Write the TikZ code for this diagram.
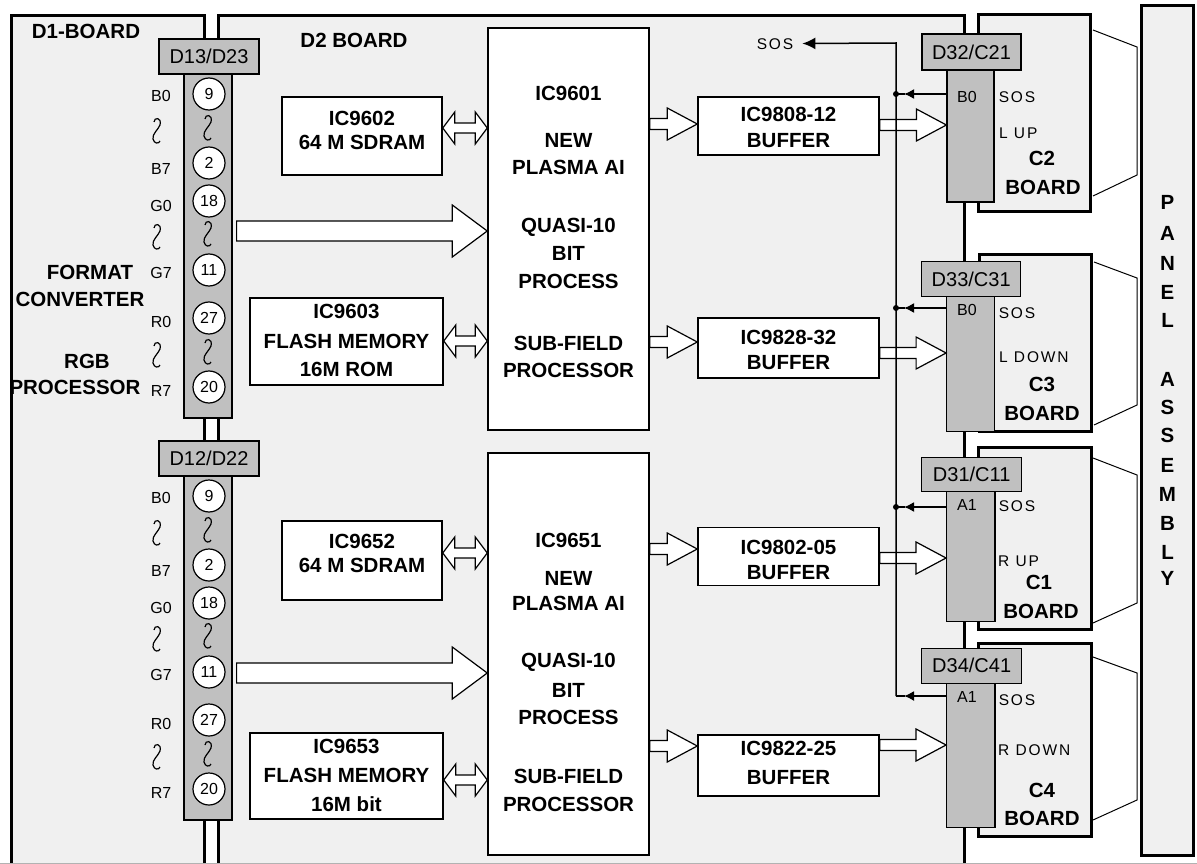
\documentclass[tikz,border=0pt]{standalone}
\usepackage{fontspec}
\setmainfont{Liberation Sans}
\newfontfamily\spacedfont[LetterSpace=12]{Liberation Sans}
\usetikzlibrary{calc,arrows.meta}
\definecolor{boardbg}{HTML}{F0F0F0}
\definecolor{conngrey}{HTML}{C0C0C0}
\newcommand\bfnt{\fontsize{20.5}{24}\selectfont\bfseries}
\newcommand\hfnt{\fontsize{20}{24}\selectfont}
\newcommand\sfnt{\fontsize{16}{19}\selectfont}
\newcommand\spfnt{\spacedfont\fontsize{15.5}{19}\selectfont}
\tikzset{
 boardbox/.style={draw=black, line width=3pt, fill=boardbg, inner sep=0pt},
 chip/.style={draw=black, line width=1.5pt, fill=white, inner sep=0pt},
 conn/.style={draw=black, line width=1.2pt, fill=conngrey, inner sep=0pt},
 pin/.style={circle, draw=black, line width=1.2pt, fill=white, minimum size=32pt, inner sep=0pt, font=\sfnt},
 bt/.style={font=\bfnt, inner sep=0pt, text height=14.7pt, text depth=0pt},
 st/.style={font=\sfnt, inner sep=0pt, text height=11.5pt, text depth=0pt},
 sp/.style={font=\spfnt, inner sep=0pt, text height=11.2pt, text depth=0pt},
 hollow/.style={draw=black, fill=white, line width=1.2pt, line join=miter},
 sig/.style={draw=black, line width=1.5pt},
 brk/.style={draw=black, line width=1pt},
 sostip/.style={-{Latex[length=10pt,width=10pt]}},
}
% single hollow block arrow: from, to, y, shaft half, head half, head length
\newcommand\blockarrow[6]{\draw[hollow] let \p1=(#1), \p2=(#2) in
 (\x1,{-#3pt+#4pt}) -- ({\x2-#6pt},{-#3pt+#4pt}) -- ({\x2-#6pt},{-#3pt+#5pt}) -- (\x2,{-#3pt})
 -- ({\x2-#6pt},{-#3pt-#5pt}) -- ({\x2-#6pt},{-#3pt-#4pt}) -- (\x1,{-#3pt-#4pt}) -- cycle;}
% double hollow block arrow
\newcommand\dblarrow[6]{\draw[hollow] let \p1=(#1), \p2=(#2) in
 (\x1,{-#3pt}) -- ({\x1+#6pt},{-#3pt+#5pt}) -- ({\x1+#6pt},{-#3pt+#4pt}) -- ({\x2-#6pt},{-#3pt+#4pt})
 -- ({\x2-#6pt},{-#3pt+#5pt}) -- (\x2,{-#3pt}) -- ({\x2-#6pt},{-#3pt-#5pt}) -- ({\x2-#6pt},{-#3pt-#4pt})
 -- ({\x1+#6pt},{-#3pt-#4pt}) -- ({\x1+#6pt},{-#3pt-#5pt}) -- cycle;}
\newcommand\squig[2]{\draw[line width=1.2pt] (#1-3,#2-9) .. controls (#1-3,#2-14) and (#1+5,#2-14) .. (#1+3,#2-6)
 .. controls (#1+1,#2-1) and (#1-5,#2+3) .. (#1-4,#2+8) .. controls (#1-3,#2+13) and (#1+2,#2+13) .. (#1+3,#2+10);}
\newcommand\pincolumn[3]{%
 \begin{scope}[yshift=#2]
  \node[conn, minimum width=48pt, minimum height=344pt] (#1col) at (208,246) {};
  \node[conn, minimum width=100pt, minimum height=35pt, font=\hfnt] (#1hdr) at (209,56.5) {#3};
  \node[pin] (#1p9) at (209,94) {9};
  \node[pin] (#1p2) at (209,163) {2};
  \node[pin] (#1p18) at (209,201) {18};
  \node[pin] (#1p11) at (209,270) {11};
  \node[pin] (#1p27) at (209,318) {27};
  \node[pin] (#1p20) at (209,387) {20};
  \squig{208}{128}\squig{208}{234}\squig{208}{352}
  \node[st] (#1lb0) at (161,96) {B0};
  \node[st] (#1lb7) at (161,169) {B7};
  \node[st] (#1lg0) at (161,206) {G0};
  \node[st] (#1lg7) at (161,273) {G7};
  \node[st] (#1lr0) at (161,322) {R0};
  \node[st] (#1lr7) at (161,391) {R7};
  \squig{157}{131}\squig{157}{237}\squig{157}{355}
 \end{scope}}
\begin{document}
\begin{tikzpicture}[x=1pt,y=-1pt]
\useasboundingbox (0,0) rectangle (1197,864);
\fill[white] (0,0) rectangle (1197,864);
% boards
\begin{scope}
 \clip (0,0) rectangle (1197,864);
 \node[boardbox, minimum width=192.5pt, minimum height=880pt] (d1) at (107.75,455.5) {};
 \node[boardbox, minimum width=745.5pt, minimum height=880pt] (d2) at (591.25,455.5) {};
\end{scope}
\draw[black!30, line width=1pt] (0,863.5) -- (1197,863.5);
\node[boardbox, minimum width=52.5pt, minimum height=849.5pt] (panel) at (1167.25,430.25) {};
\node[boardbox, minimum width=111.5pt, minimum height=196pt] (c2b) at (1034.25,113) {};
\node[boardbox, minimum width=112pt, minimum height=176.5pt] (c3b) at (1035.6,342.75) {};
\node[boardbox, minimum width=112.7pt, minimum height=181.6pt] (c1b) at (1034.7,538.5) {};
\node[boardbox, minimum width=112.7pt, minimum height=193.4pt] (c4b) at (1034.7,740) {};
% board titles
\node[bt] (t1) at (86,31.5) {D1-BOARD};
\node[bt] (t2) at (354,40) {D2 BOARD};
\node[bt] (t3) at (90,272) {FORMAT};
\node[bt] (t4) at (80,299) {CONVERTER};
\node[bt] (t5) at (87,361) {RGB};
\node[bt] (t6) at (75,387) {PROCESSOR};
% panel letters
\foreach \ch/\yy [count=\i] in {P/202,A/233,N/263,E/292,L/320,A/379,S/407,S/435,E/465,M/494,B/523,L/552,Y/578}
 \node[bt] (pl\i) at (1167.5,\yy) {\ch};
% chips
\node[chip, minimum width=160pt, minimum height=78pt] (ic9602) at (362,136) {};
\node[bt] (ic9602a) at (362,118) {IC9602};
\node[bt] (ic9602b) at (362,142) {64 M SDRAM};
\node[chip, minimum width=193pt, minimum height=87pt] (ic9603) at (346.5,341.5) {};
\node[bt] (ic9603a) at (346.5,311) {IC9603};
\node[bt] (ic9603b) at (346.5,341) {FLASH MEMORY};
\node[bt] (ic9603c) at (346.5,369) {16M ROM};
\node[chip, minimum width=160pt, minimum height=79pt] (ic9652) at (362,560.5) {};
\node[bt] (ic9652a) at (362,541) {IC9652};
\node[bt] (ic9652b) at (362,565) {64 M SDRAM};
\node[chip, minimum width=193pt, minimum height=86pt] (ic9653) at (346.5,776) {};
\node[bt] (ic9653a) at (346.5,746) {IC9653};
\node[bt] (ic9653b) at (346.5,775) {FLASH MEMORY};
\node[bt] (ic9653c) at (346.5,804) {16M bit};
\node[chip, minimum width=161pt, minimum height=402pt] (ic9601) at (568.5,229) {};
\node[bt] (ic9601a) at (568.5,93) {IC9601};
\node[bt] (ic9601b) at (568.5,140) {NEW};
\node[bt] (ic9601c) at (568.5,167) {PLASMA AI};
\node[bt] (ic9601d) at (568.5,225) {QUASI-10};
\node[bt] (ic9601e) at (568.5,253) {BIT};
\node[bt] (ic9601f) at (568.5,281) {PROCESS};
\node[bt] (ic9601g) at (568.5,343) {SUB-FIELD};
\node[bt] (ic9601h) at (568.5,370) {PROCESSOR};
\node[chip, minimum width=161pt, minimum height=402pt] (ic9651) at (568.5,654) {};
\node[bt] (ic9651a) at (568.5,540) {IC9651};
\node[bt] (ic9651b) at (568.5,578) {NEW};
\node[bt] (ic9651c) at (568.5,603) {PLASMA AI};
\node[bt] (ic9651d) at (568.5,660) {QUASI-10};
\node[bt] (ic9651e) at (568.5,690) {BIT};
\node[bt] (ic9651f) at (568.5,717) {PROCESS};
\node[bt] (ic9651g) at (568.5,776) {SUB-FIELD};
\node[bt] (ic9651h) at (568.5,804) {PROCESSOR};
\node[chip, minimum width=181pt, minimum height=58pt] (buf1) at (788.5,126) {};
\node[bt] (buf1a) at (788.5,114) {IC9808-12};
\node[bt] (buf1b) at (788.5,140) {BUFFER};
\node[chip, minimum width=181pt, minimum height=60pt] (buf2) at (788.5,348) {};
\node[bt] (buf2a) at (788.5,337) {IC9828-32};
\node[bt] (buf2b) at (788.5,362) {BUFFER};
\node[chip, minimum width=181pt, minimum height=58pt] (buf3) at (788.5,556.5) {};
\node[bt] (buf3a) at (788.5,547) {IC9802-05};
\node[bt] (buf3b) at (788.5,572) {BUFFER};
\node[chip, minimum width=181pt, minimum height=61pt] (buf4) at (788.5,765.5) {};
\node[bt] (buf4a) at (788.5,748) {IC9822-25};
\node[bt] (buf4b) at (788.5,777) {BUFFER};
% left connector columns
\pincolumn{u}{0pt}{D13/D23}
\pincolumn{l}{-402pt}{D12/D22}
% right connector columns
\node[conn, minimum width=47pt, minimum height=132pt] (c2col) at (970.5,136) {};
\node[conn, minimum width=99pt, minimum height=36pt, font=\hfnt] (c2hdr) at (971.5,52) {D32/C21};
\node[conn, minimum width=47.6pt, minimum height=135pt] (c3col) at (970.5,364.2) {};
\node[conn, minimum width=99pt, minimum height=35pt, font=\hfnt] (c3hdr) at (971.2,279.2) {D33/C31};
\node[conn, minimum width=48.3pt, minimum height=130pt] (c1col) at (970.8,556.7) {};
\node[conn, minimum width=100pt, minimum height=34.4pt, font=\hfnt] (c1hdr) at (971.7,474.5) {D31/C11};
\node[conn, minimum width=48.3pt, minimum height=144pt] (c4col) at (970.8,755.3) {};
\node[conn, minimum width=100pt, minimum height=35pt, font=\hfnt] (c4hdr) at (971.7,665.8) {D34/C41};
% right column texts
\node[st] (c2pin) at (967,97) {B0};
\node[sp] (c2sos) at (1017,97) {SOS};
\node[sp, anchor=west] (c2sig) at (999,133) {L UP};
\node[bt] (c2n) at (1042,158) {C2};
\node[bt] (c2bd) at (1043,187) {BOARD};
\node[st] (c3pin) at (967,310) {B0};
\node[sp] (c3sos) at (1017,313) {SOS};
\node[sp, anchor=west] (c3sig) at (999,357) {L DOWN};
\node[bt] (c3n) at (1042,384) {C3};
\node[bt] (c3bd) at (1042,413) {BOARD};
\node[st] (c1pin) at (967,505) {A1};
\node[sp] (c1sos) at (1017,506) {SOS};
\node[sp, anchor=west] (c1sig) at (998,561) {R UP};
\node[bt] (c1n) at (1039,582) {C1};
\node[bt] (c1bd) at (1041,611) {BOARD};
\node[st] (c4pin) at (967,697) {A1};
\node[sp] (c4sos) at (1017,700) {SOS};
\node[sp, anchor=west] (c4sig) at (998,750) {R DOWN};
\node[bt] (c4n) at (1042,790) {C4};
\node[bt] (c4bd) at (1042,818) {BOARD};
% brackets to panel
\draw[brk] (1093,30) -- (1137,47) -- (1137,175) -- (1093,196);
\draw[brk] (1094,262) -- (1137,278) -- (1137,405) -- (1094,425);
\draw[brk] (1093,458) -- (1137,475) -- (1137,603) -- (1093,623);
\draw[brk] (1093,657) -- (1137,673) -- (1137,800) -- (1093,820);
% hollow arrows
\dblarrow{ic9602.east}{ic9601.west}{128}{5}{16}{12}
\dblarrow{ic9603.east}{ic9601.west}{341}{5}{16}{12}
\dblarrow{ic9652.east}{ic9651.west}{553}{5}{16}{12}
\dblarrow{ic9653.east}{ic9651.west}{780}{5}{16}{12}
\blockarrow{$(ucol.east)+(4,0)$}{ic9601.west}{231}{10}{26}{35}
\blockarrow{$(lcol.east)+(4,0)$}{ic9651.west}{673}{10}{26}{35}
\blockarrow{ic9601.east}{buf1.west}{124}{5.5}{16}{30}
\blockarrow{ic9601.east}{buf2.west}{342}{5.5}{16}{30}
\blockarrow{ic9651.east}{buf3.west}{549}{5.5}{16}{30}
\blockarrow{ic9651.east}{buf4.west}{746}{5.5}{16}{30}
\blockarrow{buf1.east}{c2col.west}{125}{5.5}{16}{30}
\blockarrow{buf2.east}{c3col.west}{353}{5.5}{16}{30}
\blockarrow{buf3.east}{c1col.west}{558}{5.5}{16}{30}
\blockarrow{buf4.east}{c4col.west}{745}{5.5}{16}{30}
% SOS bus
\node[sp] (sostop) at (775,43.5) {SOS};
\coordinate (bus) at (896,43);
\coordinate (j2) at (896,94);
\coordinate (j3) at (896,308);
\coordinate (j1) at (896,507);
\coordinate (j4) at (896,696);
\draw[sig, -{Latex[length=13pt,width=12pt]}] (j4) -- (bus) -- ($(sostop.east)+(9,0)$);
\foreach \j/\c in {j2/c2col,j3/c3col,j1/c1col,j4/c4col}{
 \draw[sig, sostip] (\c.west |- \j) -- ($(\j)+(8,0)$);
 \draw[sig] ($(\j)+(9,0)$) -- (\j);
}
\foreach \j in {j2,j3,j1} \fill (\j) circle (3);
\end{tikzpicture}
\end{document}
